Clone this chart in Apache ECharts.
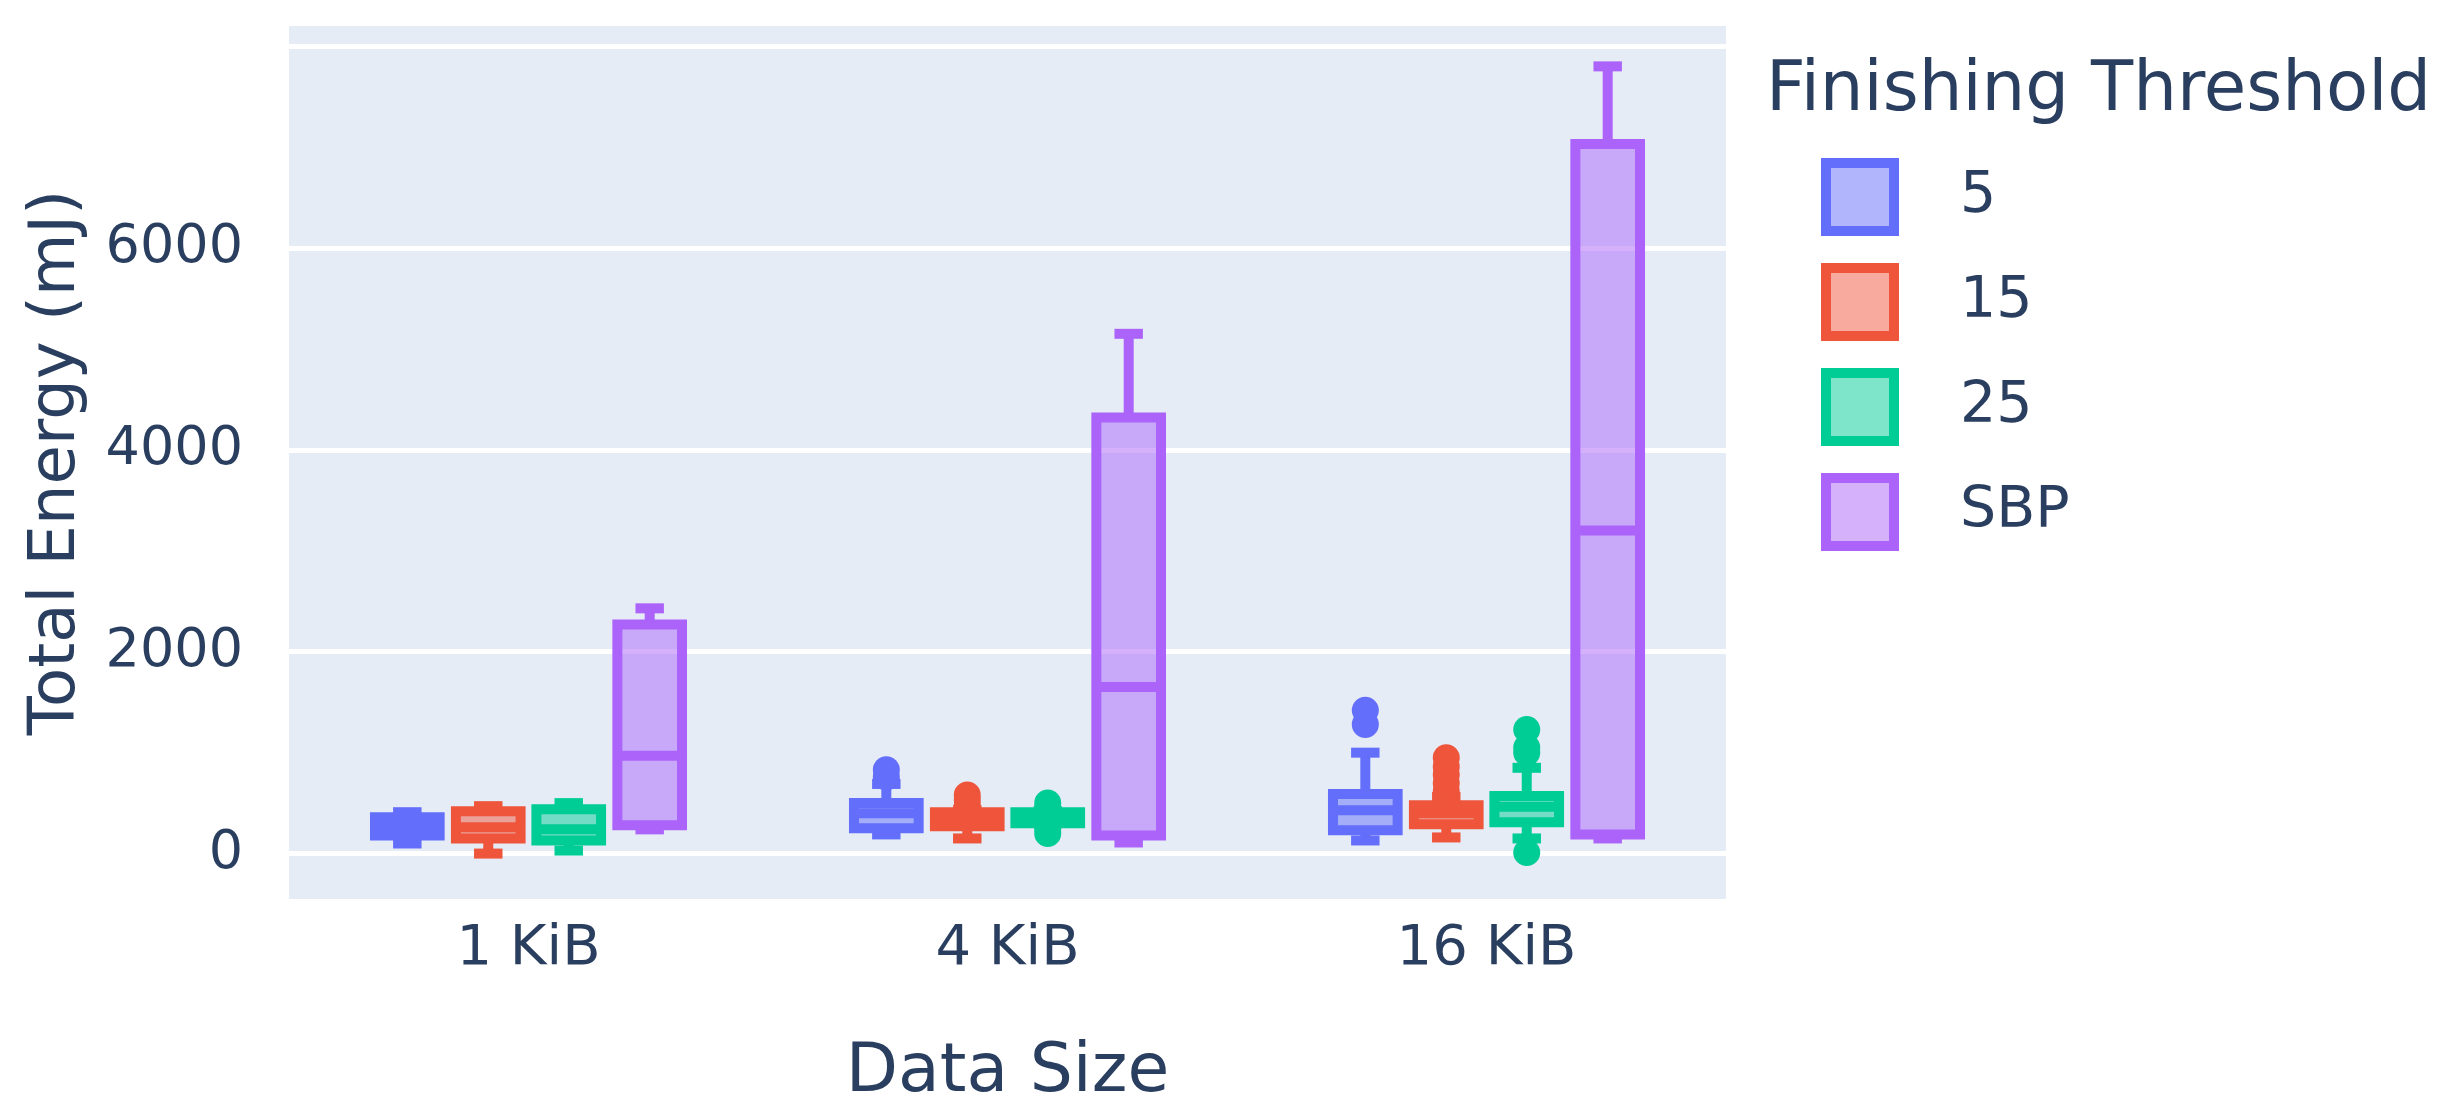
<!DOCTYPE html>
<html>
<head>
<meta charset="utf-8">
<script src="https://cdn.jsdelivr.net/npm/echarts@6/dist/echarts.min.js"></script>
<style>html,body{margin:0;padding:0;background:#fff}#chart{width:2438px;height:1118px}</style>
</head>
<body>
<div id="chart"></div>
<script>
const categories = ["1 KiB", "4 KiB", "16 KiB"];
const thresholds = ["5", "15", "25", "SBP"];
const colors = ["#636efa", "#EF553B", "#00cc96", "#ab63fa"];
const fills = ["rgba(99,110,250,0.5)", "rgba(239,85,59,0.5)", "rgba(0,204,150,0.5)", "rgba(171,99,250,0.5)"];

// [min, q1, median, q3, max] per category
const box5 = [[100, 180, 270, 360, 410], [190, 250, 400, 500, 690], [130, 230, 430, 590, 1000]];
const box15 = [[0, 150, 260, 420, 470], [150, 270, 350, 410, 430], [160, 290, 400, 480, 560]];
const box25 = [[30, 130, 240, 440, 500], [300, 300, 360, 410, 420], [150, 310, 465, 570, 850]];
const boxSBP = [[240, 280, 970, 2270, 2430], [110, 180, 1650, 4320, 5150], [150, 190, 3200, 7030, 7800]];

// outliers per category
const out5 = [[], [760, 830], [1280, 1420]];
const out15 = [[], [480, 530, 580], [620, 700, 780, 860, 950]];
const out25 = [[], [200, 250, 450, 500], [10, 1000, 1050, 1230]];
const outSBP = [[], [], []];

const yTicks = [0, 2000, 4000, 6000];

const boxes = [box5, box15, box25, boxSBP];
const outs = [out5, out15, out25, outSBP];
const offsets = [-0.253, -0.084, 0.084, 0.253];

// only every 2000 gets a grid line (ticks every 50 from -450)
const lineColors = [];
for (let i = 0; i < 40; i++) lineColors.push(i === 9 ? "#fff" : "rgba(0,0,0,0)");

function renderBox(params, api) {
  const k = params.seriesIndex / 2;
  const c = colors[k];
  const x = api.value(0);
  const p = [1, 2, 3, 4, 5].map(i => api.coord([x, api.value(i)]));
  const w = api.size([0.135, 0])[0];
  const cx = p[0][0];
  const lw = 10;
  const st = { stroke: c, lineWidth: lw, fill: null };
  return {
    type: "group",
    children: [
      { type: "line", shape: { x1: cx, y1: p[3][1], x2: cx, y2: p[4][1] }, style: st },
      { type: "line", shape: { x1: cx, y1: p[1][1], x2: cx, y2: p[0][1] }, style: st },
      { type: "line", shape: { x1: cx - w * 0.22, y1: p[4][1], x2: cx + w * 0.22, y2: p[4][1] }, style: st },
      { type: "line", shape: { x1: cx - w * 0.22, y1: p[0][1], x2: cx + w * 0.22, y2: p[0][1] }, style: st },
      { type: "rect", shape: { x: cx - w / 2, y: p[3][1], width: w, height: p[1][1] - p[3][1] },
        style: { fill: fills[k], stroke: c, lineWidth: lw } },
      { type: "line", shape: { x1: cx - w / 2, y1: p[2][1], x2: cx + w / 2, y2: p[2][1] }, style: st }
    ]
  };
}

const series = [];
thresholds.forEach((name, k) => {
  series.push({
    name, type: "custom", xAxisIndex: 1, renderItem: renderBox,
    itemStyle: { color: colors[k] },
    encode: { x: 0, y: [1, 2, 3, 4, 5] },
    data: boxes[k].map((b, i) => [i + offsets[k]].concat(b))
  });
  const pts = [];
  outs[k].forEach((arr, i) => arr.forEach(v => pts.push([i + offsets[k], v])));
  series.push({
    name, type: "scatter", xAxisIndex: 1, symbolSize: 27,
    itemStyle: { color: colors[k], opacity: 1 }, data: pts, z: 3
  });
});

const chart = echarts.init(document.getElementById("chart"));
chart.setOption({
  animation: false,
  textStyle: { fontFamily: "DejaVu Sans", color: "#2a3f5f" },
  grid: { left: 289, right: 712, top: 26, bottom: 219, show: true, backgroundColor: "#e5ecf6", borderWidth: 0 },
  legend: {
    left: 1816, top: 153, orient: "vertical", itemWidth: 68, itemHeight: 68, itemGap: 27,
    textStyle: { fontSize: 57, color: "#2a3f5f", padding: [0, 0, 0, 61] },
    data: thresholds.map((n, k) => ({
      name: n, icon: "rect",
      itemStyle: { color: fills[k], borderColor: colors[k], borderWidth: 10 }
    }))
  },
  graphic: [{
    type: "text", left: 1766, top: 58,
    style: { text: "Finishing Threshold", fontSize: 69, fill: "#2a3f5f", fontFamily: "DejaVu Sans" }
  }],
  xAxis: [
    {
      type: "category", data: categories, boundaryGap: true,
      name: "Data Size", nameLocation: "middle", nameGap: 140,
      nameTextStyle: { fontSize: 68, color: "#2a3f5f" },
      axisLine: { show: false }, axisTick: { show: false },
      axisLabel: { fontSize: 56, color: "#2a3f5f", margin: 22 }
    },
    { type: "value", min: -0.5, max: 2.5, show: false }
  ],
  yAxis: {
    type: "value", min: -450, max: 8200, interval: 50,
    name: "Total Energy (mJ)", nameLocation: "middle", nameGap: 200,
    nameTextStyle: { fontSize: 64, color: "#2a3f5f" },
    axisLine: { show: false }, axisTick: { show: false },
    axisLabel: {
      fontSize: 54, color: "#2a3f5f", margin: 46, hideOverlap: false,
      formatter: v => (yTicks.indexOf(v) >= 0 ? String(v) : "")
    },
    splitLine: { show: true, lineStyle: { color: lineColors, width: 5 } }
  },
  series
});
</script>
</body>
</html>
